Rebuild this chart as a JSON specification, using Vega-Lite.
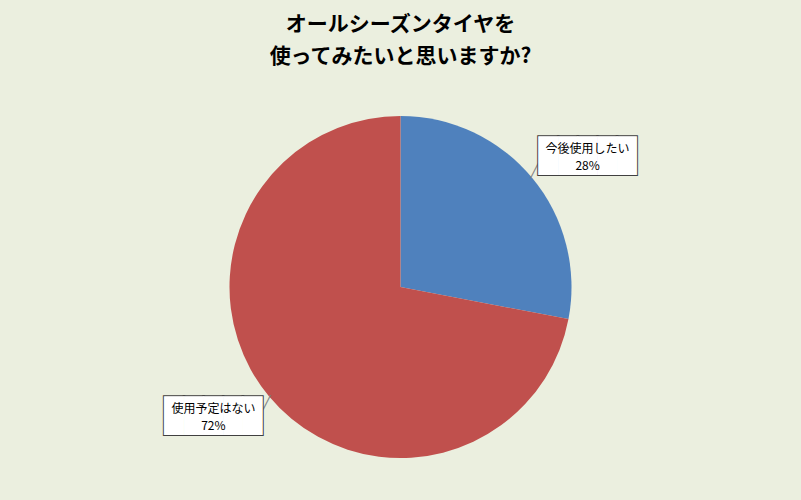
{
  "$schema": "https://vega.github.io/schema/vega-lite/v6.json",
  "width": 801,
  "height": 500,
  "autosize": {"type": "fit", "contains": "padding"},
  "padding": {"top": 14, "left": 0, "right": 0, "bottom": 0},
  "background": "#EBEFDF",
  "title": {
    "text": ["オールシーズンタイヤを", "使ってみたいと思いますか?"],
    "font": "Noto Sans CJK JP",
    "fontSize": 21,
    "fontWeight": "bold",
    "lineHeight": 32,
    "color": "#000000",
    "anchor": "middle",
    "offset": 7
  },
  "data": {
    "values": [
      {"answer": "今後使用したい", "share": 28},
      {"answer": "使用予定はない", "share": 72}
    ]
  },
  "transform": [
    {"calculate": "datum.answer + '\\n' + datum.share + '%'", "as": "label"}
  ],
  "encoding": {
    "theta": {"field": "share", "type": "quantitative", "stack": true},
    "order": {"field": "share", "type": "quantitative", "sort": "ascending"}
  },
  "layer": [
    {
      "mark": {"type": "arc", "radius": 171},
      "encoding": {
        "color": {
          "field": "answer",
          "type": "nominal",
          "scale": {"domain": ["今後使用したい", "使用予定はない"], "range": ["#4F81BD", "#C0504D"]},
          "legend": null
        }
      }
    },
    {
      "mark": {"type": "text", "radius": 177, "thetaOffset": -0.022, "font": "DejaVu Sans Mono", "fontSize": 13, "fill": "#808080", "baseline": "middle", "text": "╱"},
      "encoding": {}
    },
    {
      "mark": {"type": "text", "radius": 228, "thetaOffset": 0.083, "font": "DejaVu Sans Mono", "fontSize": 32.6, "fill": "#FFFFFF", "stroke": "#404040", "strokeWidth": 2, "baseline": "middle", "dy": 0, "text": "█████"},
      "encoding": {}
    },
    {
      "mark": {"type": "text", "radius": 228, "thetaOffset": 0.083, "font": "DejaVu Sans Mono", "fontSize": 32.6, "fill": "#FFFFFF", "baseline": "middle", "dy": 0, "text": "█████"},
      "encoding": {}
    },
    {
      "mark": {"type": "text", "radius": 228, "thetaOffset": 0.083, "lineBreak": "\n", "lineHeight": 17, "font": "Noto Sans CJK JP", "fontSize": 12, "color": "#000000", "dy": -8, "baseline": "middle"},
      "encoding": {"text": {"field": "label"}}
    }
  ]
}
